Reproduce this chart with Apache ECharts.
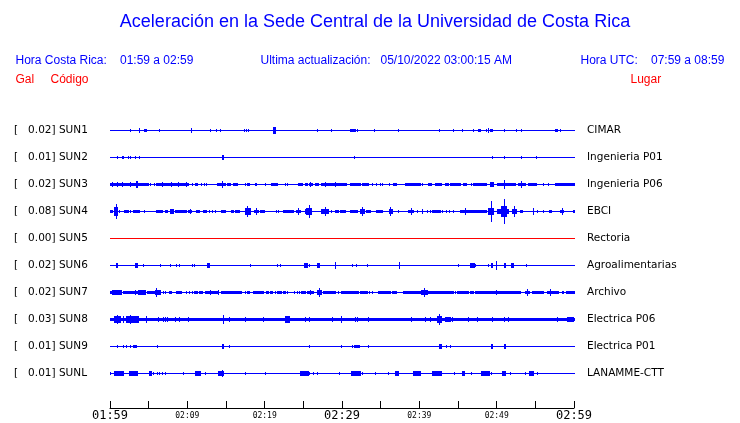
<!DOCTYPE html>
<html><head><meta charset="utf-8">
<script src="https://cdn.jsdelivr.net/npm/echarts@6/dist/echarts.min.js"></script>
<style>html,body{margin:0;padding:0;background:#fff}#c{width:740px;height:423px}</style>
</head><body><div id="c"></div>
<script>
// ---- data ----
const codes = ['SUN1','SUN2','SUN3','SUN4','SUN5','SUN6','SUN7','SUN8','SUN9','SUNL'];
const galValues = [0.02,0.01,0.02,0.08,0.00,0.02,0.02,0.03,0.01,0.01];
const places = ['CIMAR','Ingenieria P01','Ingenieria P06','EBCI','Rectoria','Agroalimentarias','Archivo','Electrica P06','Electrica P01','LANAMME-CTT'];
const tickLabels = ['01:59','','02:09','','02:19','','02:29','','02:39','','02:49','','02:59'];
const majorLabels = ['01:59','02:29','02:59'];
// bursts per trace: [start minute after 01:59, end minute, half amplitude]
const sun1 = [[0,60,0],[2.57,2.57,1],[3.77,3.77,2],[4.45,4.65,1.5],[6.36,6.36,1.5],[10.42,10.42,2],[12.92,12.92,1.5],[13.65,13.65,1.5],[14.21,14.21,1],[17.32,17.32,1.5],[17.62,17.62,1.5],[17.88,17.88,1.5],[21.1,21.3,3],[26.77,26.77,1.5],[28.58,28.58,1.5],[31.08,31.68,1.5],[31.94,31.94,1],[34.19,34.19,1],[37.29,37.29,1.5],[42.56,42.56,1.5],[44.41,44.41,1.5],[45.58,45.58,1],[46.96,46.96,1.5],[47.56,47.82,1.5],[48.68,48.68,1],[48.9,48.9,2.5],[49.11,49.46,1.5],[50.97,50.97,1.5],[52.52,52.52,1.5],[53.21,53.21,1.5],[57.53,57.78,1.5],[58.17,58.17,1.5]];
const sun2 = [[0,60,0],[0.88,0.88,1.5],[1.5,1.65,1.5],[2.31,2.31,1],[2.57,2.57,1.5],[3.26,3.26,1],[3.73,3.73,1],[14.45,14.6,2],[31.55,31.55,1],[49.42,49.42,1],[50.97,50.97,1.5],[53.17,53.17,1.5],[55.11,55.11,1]];
const sun3 = [[0,60,0],[0,4.9,1.5],[0.32,0.32,2],[0.93,0.93,2.5],[1.57,1.57,2.5],[2.61,2.61,2.5],[3.3,3.47,3],[5.2,5.2,1],[5.63,5.63,1],[5.97,10.07,1.5],[6.71,6.71,2],[7.92,7.92,2],[8.78,8.78,2],[9.77,9.77,2],[10.59,10.59,1],[10.94,11.28,1.5],[11.71,11.71,1],[12.14,12.14,1],[12.4,12.4,1],[13.87,14.82,1.5],[14.47,14.47,3],[15.16,15.51,1.5],[15.94,16.46,1.5],[17.49,17.49,1],[17.7,17.92,1.5],[18.7,18.7,1],[18.92,18.92,1],[19.99,19.99,1],[20.86,21.55,1.5],[22.58,22.58,1],[22.93,22.93,1],[24.31,24.83,1.5],[25.17,25.43,1.5],[25.69,26.12,1.5],[25.86,25.86,2.5],[26.47,26.9,1.5],[27.33,30.48,1.5],[27.76,27.76,2],[29.05,29.05,2],[31.0,32.29,1.5],[32.55,33.41,1.5],[33.88,33.88,1],[34.45,34.45,1.5],[34.88,34.88,1],[35.22,35.22,1],[36.08,36.08,1.5],[36.6,37.03,1.5],[38.11,38.76,1.5],[38.98,40.05,1.5],[40.36,40.36,1],[41.13,41.56,1.5],[42.0,42.86,1.5],[43.29,43.72,1.5],[43.94,45.23,1.5],[45.66,46.09,1.5],[46.65,46.65,1],[46.96,48.68,1.5],[49.11,49.54,2.5],[49.98,52.35,1.5],[50.97,50.97,4],[52.78,53.64,1.5],[53.21,53.21,3],[54.07,55.15,1.5],[55.93,55.93,1],[56.66,56.66,1.5],[57.53,60,1.5]];
const sun4 = [[0,60,0],[0,0.24,1.5],[0.58,0.93,4],[0.75,0.75,7],[1.19,1.19,1],[1.79,2.31,1.5],[2.57,2.57,1],[3.0,3.77,1.5],[4.38,4.38,1],[5.89,6.71,1.5],[7.05,7.31,1.5],[7.74,8.18,2],[8.05,8.05,2.5],[8.35,9.86,1.5],[10.07,10.5,1.5],[10.29,10.29,2.5],[11.07,11.5,1.5],[12.01,12.45,1.5],[12.75,12.75,1],[13.18,13.18,1],[13.61,13.61,1],[14.3,14.9,1.5],[15.6,15.94,1.5],[16.11,16.63,1.5],[17.41,18.05,3],[17.75,17.75,5],[18.57,19.13,1.5],[18.92,18.92,3],[19.35,19.91,1.5],[21.46,21.46,1],[21.72,21.72,1],[22.37,23.66,1.5],[24.09,24.52,1.5],[24.31,24.31,3],[25.17,26.03,2],[25.39,25.95,3.5],[25.69,25.69,6],[27.33,28.19,2.5],[27.76,27.76,4.5],[28.62,28.62,1],[29.05,29.49,1.5],[29.7,30.35,1.5],[31.0,31.94,1.5],[32.29,32.81,2],[32.63,32.63,4],[33.07,33.67,1.5],[34.36,35.22,1.5],[36.08,36.43,2],[36.26,36.26,4],[37.25,37.25,1],[38.54,39.19,1.5],[38.93,38.93,3],[39.71,39.71,1],[40.4,40.4,2.5],[41.0,41.0,1],[41.35,41.35,1],[41.69,42.64,1.5],[42.9,42.9,1],[43.42,43.42,1],[43.85,43.85,1],[44.37,44.37,1],[45.23,46.31,1.5],[45.92,45.92,3],[46.44,48.68,1.5],[48.9,49.54,3.5],[49.33,49.33,10.5],[49.98,51.49,2],[50.62,51.27,5],[50.97,50.97,12],[51.92,52.48,2],[52.22,52.22,5],[53.0,53.34,1.5],[54.64,54.64,3.5],[55.24,55.24,1],[55.93,55.93,1],[56.79,57.05,1.5],[58.17,58.6,1.5],[58.39,58.39,3.5],[59.81,60,1.5]];
const sun5 = [[0,60,0]];
const sun6 = [[0,60,0],[0.75,0.95,2],[3.2,3.45,2],[4.29,4.29,1],[6.45,6.45,1],[7.74,7.74,1],[8.52,8.52,1],[8.87,8.87,1],[10.59,10.59,1.5],[10.85,10.85,1],[12.49,12.83,2.5],[18.1,18.1,1.5],[21.59,21.59,1.5],[21.98,21.98,1.5],[25.09,25.52,2],[25.78,25.78,1.5],[26.73,27.07,2],[29.14,29.14,3.5],[31.3,31.3,1],[31.77,31.77,1.5],[33.24,33.24,1],[37.38,37.38,3],[45.02,45.02,1.5],[46.52,47.04,2],[47.22,47.22,1.5],[48.9,48.9,1],[49.25,49.45,2],[49.85,49.85,4.5],[50.9,51.1,2],[51.9,52.1,2],[53.77,53.77,1]];
const sun7 = [[0,60,0],[0,0.24,1.5],[0.32,1.45,2],[1.62,2.22,1.5],[2.31,4.47,1.5],[3.17,3.17,2.5],[3.6,4.47,2],[4.81,5.76,1.5],[5.76,6.41,2],[5.98,5.98,3.7],[6.79,6.79,1],[7.14,7.14,1],[7.57,7.92,1.5],[8.48,9.21,1.5],[9.86,9.86,1],[10.16,10.16,1],[10.59,10.59,1],[10.85,11.28,1.5],[11.5,11.88,1.5],[12.23,12.23,1],[12.45,13.95,1.5],[12.92,12.92,2.5],[13.95,13.95,2.5],[14.39,16.89,1.5],[17.41,17.41,1],[17.75,18.01,1.5],[18.53,19.78,1.5],[20.21,20.43,1.5],[20.69,20.95,1.5],[21.29,21.29,1],[21.55,22.07,1.5],[22.33,22.67,1.5],[22.93,22.93,1],[23.79,23.79,1],[24.14,24.14,1],[24.4,24.4,1],[24.74,25.17,1.5],[25.43,26.25,1.5],[25.86,25.86,2.5],[26.81,27.24,2],[27.07,27.07,4],[27.54,29.05,1.5],[29.49,29.49,1],[29.83,32.07,1.5],[32.29,33.24,1.5],[33.5,33.5,1],[33.84,33.84,1],[34.62,36.17,1.5],[36.52,37.03,1.5],[37.9,40.05,1.5],[40.27,41.0,2],[40.66,40.66,4.2],[41.0,44.37,1.5],[44.58,44.58,1],[44.89,46.31,1.5],[46.52,46.96,1.5],[47.17,49.98,1.5],[49.89,49.89,2.5],[50.19,52.99,1.5],[53.64,54.2,1.5],[53.95,53.95,3.5],[54.51,56.02,1.5],[56.45,57.31,1.5],[56.88,56.88,3.5],[57.4,57.74,1.5],[57.96,57.96,1],[58.39,58.6,1.5],[59.03,60,1.5]];
const sun8 = [[0,60,0],[0,60,1.5],[0.58,1.23,3],[0.88,0.88,4.5],[1.66,1.66,3],[2.09,3.6,3],[2.65,2.65,4],[4.68,4.68,3],[6.19,6.19,2.5],[6.84,6.84,2.5],[7.14,7.14,2.5],[7.4,7.4,2.5],[8.35,8.35,2],[8.87,8.87,2.5],[10.07,10.07,2],[14.56,14.56,4],[15.34,15.34,2.5],[17.41,17.41,2],[19.78,19.78,2],[22.58,23.1,3],[25.26,25.26,2],[25.69,25.69,2],[28.75,28.75,2],[29.83,29.83,3.5],[31.64,31.64,2],[31.94,31.94,2],[33.32,33.32,2.5],[38.98,38.98,2.5],[40.7,40.7,2],[41.35,41.35,2],[42.3,42.8,3],[42.56,42.56,5.5],[43.29,43.94,2.5],[44.28,44.28,2.5],[46.27,46.27,2.5],[47.47,47.47,2],[49.37,49.37,2.5],[51.01,51.01,2.5],[51.49,51.49,2],[57.83,57.83,2],[59.12,59.9,2.5]];
const sun9 = [[0,60,0],[0.93,0.93,1.5],[1.66,1.66,1],[2.05,2.05,1],[2.65,2.65,1],[3.0,3.39,1.5],[6.1,6.1,1.5],[14.45,14.65,2],[15.38,15.38,1.5],[25.78,25.78,1],[29.83,29.83,1],[31.34,31.34,1],[31.6,32.2,1.5],[33.37,33.37,1],[42.55,42.75,2],[43.42,43.42,1],[43.94,43.94,1],[49.3,49.45,2],[50.95,51.1,2]];
const sunL = [[0,60,0],[0,0,1],[0.5,1.66,2],[2.52,3.43,2],[4.98,5.33,2],[5.54,5.54,1],[6.06,6.06,1.5],[6.36,6.36,1],[6.71,6.71,1],[7.05,7.05,1],[9.47,9.47,1.5],[11.02,11.58,2],[12.23,12.23,1],[13.96,14.65,2],[14.47,14.47,3.5],[17.41,17.41,1.5],[20.04,20.04,1.5],[24.52,25.6,2],[25.78,25.78,1],[26.3,26.3,1],[26.81,26.81,1],[29.62,29.62,1.5],[31.17,32.29,2],[32.55,32.55,1],[34.27,34.27,1],[35.96,35.96,1],[36.82,37.25,2],[39.19,40.05,2],[41.61,42.43,2.5],[42.56,42.86,2],[44.5,44.5,1],[45.53,45.75,2],[46.74,46.74,1],[48.03,49.03,2],[49.29,49.29,1],[50.67,51.14,2],[51.7,51.7,1],[53.64,53.64,1],[54.2,54.64,2],[55.24,55.24,1]];
const traces = [sun1,sun2,sun3,sun4,sun5,sun6,sun7,sun8,sun9,sunL];

// ---- layout / style ----
const ROW = 27;
const BLUE = '#0000ff', RED = '#ff0000';
const traceColor = k => (codes[k] === 'SUN5' ? RED : BLUE);
const leftLabels = codes.map((c, i) => '[   ' + galValues[i].toFixed(2) + '] ' + c);

const chart = echarts.init(document.getElementById('c'), null, {renderer: 'canvas'});

const series = traces.map((tr, k) => ({
  type: 'custom',
  xAxisIndex: 0,
  yAxisIndex: 0,
  silent: true,
  animation: false,
  data: tr.map(b => [b[0], b[1], b[2], ROW * k + ROW / 2]),
  encode: {x: [0, 1], y: 3},
  renderItem: (params, api) => {
    const t0 = api.value(0), t1 = api.value(1), a = api.value(2), r = api.value(3);
    const xa = Math.round(api.coord([t0, r])[0]);
    const xb = Math.round(api.coord([t1, r])[0]);
    const yt = Math.floor(api.coord([t0, r - a])[1]);
    const yb = Math.ceil(api.coord([t0, r + a])[1]);
    return {
      type: 'rect',
      shape: {x: xa, y: yt, width: Math.max(1, xb - xa + 1), height: Math.max(1, yb - yt)},
      style: {fill: traceColor(k)}
    };
  }
}));

const FONT_HDR = '"Liberation Sans", Arial, sans-serif';
const hdr = (text, x, y, color, size, align) => ({
  type: 'text', x: x, y: y, silent: true,
  style: {text: text, fill: color, fontFamily: FONT_HDR, fontSize: size, verticalAlign: 'middle', align: align || 'left'}
});

const option = {
  backgroundColor: '#fff',
  animation: false,
  grid: {left: 110, right: 166, top: 117, height: 270, containLabel: false},
  xAxis: {
    type: 'value', min: 0, max: 60, interval: 5, position: 'bottom', offset: 21,
    axisLine: {show: true, onZero: false, lineStyle: {color: '#000', width: 1}},
    axisTick: {show: true, inside: true, length: 7, lineStyle: {color: '#000', width: 1}},
    splitLine: {show: false},
    axisLabel: {
      margin: 2,
      formatter: v => {
        const t = tickLabels[Math.round(v / 5)];
        if (!t) return '';
        return majorLabels.indexOf(t) >= 0 ? '{big|' + t + '}' : '{small|' + t + '}';
      },
      rich: {
        big: {fontFamily: '"DejaVu Sans Mono", monospace', fontSize: 12, color: '#000'},
        small: {fontFamily: '"DejaVu Sans Mono", monospace', fontSize: 8, color: '#000', padding: [2, 0, 0, 0]}
      }
    }
  },
  yAxis: [
    {type: 'value', min: 0, max: ROW * 10, inverse: true, show: false, position: 'left'},
    {type: 'category', data: leftLabels, inverse: true, position: 'left',
      axisLine: {show: false}, axisTick: {show: false}, splitLine: {show: false},
      axisLabel: {interval: 0, align: 'left', margin: 96, color: '#000', fontFamily: '"DejaVu Sans", sans-serif', fontSize: 10.5}},
    {type: 'category', data: places, inverse: true, position: 'right',
      axisLine: {show: false}, axisTick: {show: false}, splitLine: {show: false},
      axisLabel: {interval: 0, align: 'left', margin: 13, color: '#000', fontFamily: '"DejaVu Sans", sans-serif', fontSize: 10.5}}
  ],
  graphic: [
    hdr('Aceleración en la Sede Central de la Universidad de Costa Rica', 375, 22.5, BLUE, 18, 'center'),
    hdr('Hora Costa Rica:', 15.5, 61, BLUE, 12),
    hdr('01:59 a 02:59', 120, 61, BLUE, 12),
    hdr('Ultima actualización:', 260.5, 61, BLUE, 12),
    hdr('05/10/2022 03:00:15 AM', 380.5, 61, BLUE, 12),
    hdr('Hora UTC:', 580.5, 61, BLUE, 12),
    hdr('07:59 a 08:59', 651, 61, BLUE, 12),
    hdr('Gal', 15.5, 80, RED, 12),
    hdr('Código', 50.5, 80, RED, 12),
    hdr('Lugar', 630.5, 80, RED, 12)
  ],
  series: series
};
chart.setOption(option);
</script>
</body></html>
